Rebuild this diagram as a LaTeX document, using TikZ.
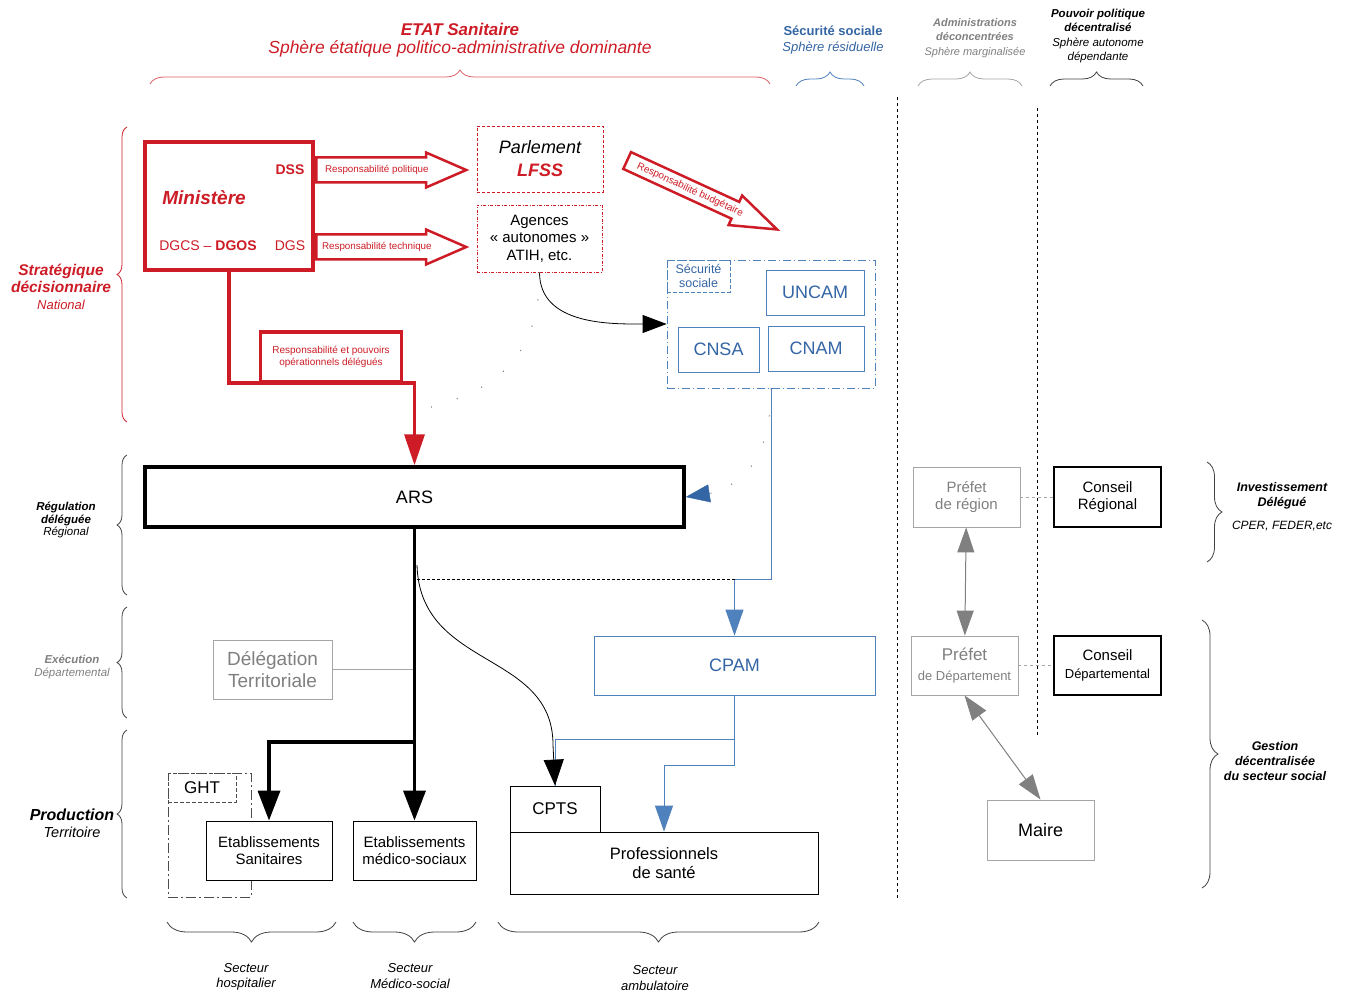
\documentclass[tikz,border=0pt]{standalone}
\usepackage{fontspec}
\setmainfont{Liberation Sans}
\usetikzlibrary{arrows.meta,shapes.arrows,decorations.pathreplacing,positioning}
\definecolor{santered}{RGB}{205,28,38}
\definecolor{secblue}{RGB}{52,101,164}
\definecolor{secline}{RGB}{79,129,189}
\definecolor{textgray}{RGB}{128,128,128}
\definecolor{prefgray}{RGB}{165,165,165}
\newcommand{\fsz}[1]{\fontsize{#1}{\fpeval{round(1.17*#1,2)}}\selectfont}
\tikzset{box/.style={draw, line width=0.8pt, align=center, inner sep=2pt, fill=white}}
\tikzset{bbox/.style={box, draw=secline, text=secblue, font=\fsz{18}}}
\tikzset{gbox/.style={box, draw=prefgray, text=textgray}}
\tikzset{kedge/.style={line width=3.5pt, -{Triangle[length=30pt,width=22pt]}}}
\tikzset{redge/.style={line width=3.5pt, color=santered}}
\tikzset{bedge/.style={line width=0.9pt, color=secline}}
\tikzset{gedge/.style={line width=1pt, color=prefgray}}
\tikzset{sdots/.style={line width=1.2pt, dash pattern=on 1pt off 26pt, color=gray}}
\tikzset{grp/.style={decorate, decoration={brace, amplitude=#1}, line width=0.8pt}}
\tikzset{blockarrow/.style={single arrow, draw=santered, line width=2.5pt, fill=white, text=santered,
    font=\fsz{9.8}, single arrow head extend=5pt, single arrow tip angle=47, inner xsep=2pt,
    inner ysep=6.5pt, text height=7.5pt, text depth=2pt}}

\begin{document}
\begin{tikzpicture}[x=1pt,y=-1pt]
    \useasboundingbox (0,0) rectangle (1346,992);

    % spheres
    \node[font=\fsz{17}\bfseries\itshape, text=santered] (etat) at (460,29) {ETAT Sanitaire};
    \node[font=\fsz{17.5}\itshape, text=santered] (etatsph) at (460,49) {Sphère étatique politico-administrative dominante};
    \node[font=\fsz{13}, text=secblue, align=center] (secu) at (833,40) {\bfseries Sécurité sociale\\\itshape Sphère résiduelle};
    \node[font=\fsz{11}, text=textgray, align=center] (admin) at (975,38)
        {\bfseries\itshape Administrations\\[1.5pt]\bfseries\itshape déconcentrées\\[1.5pt]\itshape Sphère marginalisée};
    \node[font=\fsz{11.5}, align=center] (pouvoir) at (1098,36)
        {\bfseries\itshape Pouvoir politique\\[1pt]\bfseries\itshape décentralisé\\[1pt]\itshape Sphère autonome\\[1pt]\itshape dépendante};

    \draw[grp=14pt, color=santered!70] (150,84) -- (770,84);
    \draw[grp=14pt, color=secline] (796,86) -- (864,86);
    \draw[grp=14pt, color=prefgray] (918,86) -- (1022,86);
    \draw[grp=14pt, color=black!75] (1050,86) -- (1143,86);

    \draw[dash pattern=on 3pt off 3pt, line width=0.8pt] (897,97) -- (897,900);
    \draw[dash pattern=on 3pt off 3pt, line width=0.8pt] (1037,108) -- (1037,737);

    % niveaux
    \node[font=\fsz{15.5}, text=santered, align=center] (strat) at (61,287)
        {\bfseries\itshape Stratégique\\[-1pt]\bfseries\itshape décisionnaire\\[-1pt]\fsz{13}\itshape National};
    \node[font=\fsz{11.5}, align=center] (regul) at (66,520)
        {\bfseries\itshape Régulation\\[-1pt]\bfseries\itshape déléguée\\[-1pt]\itshape Régional};
    \node[font=\fsz{11.5}, text=textgray, align=center] (exec) at (72,667)
        {\bfseries\itshape Exécution\\[-1pt]\itshape Départemental};
    \node[font=\fsz{16}, align=center] (prod) at (72,823)
        {\bfseries\itshape Production\\[-2pt]\fsz{14.5}\itshape Territoire};

    \draw[grp=10pt, color=santered] (127,422) -- (127,127);
    \draw[grp=10pt, color=black!75] (127,595) -- (127,455);
    \draw[grp=10pt, color=black!75] (127,718) -- (127,607);
    \draw[grp=10pt, color=black!75] (127,898) -- (127,730);

    \node[font=\fsz{12.5}\bfseries\itshape, align=center] (invest) at (1282,496) {Investissement\\Délégué};
    \node[font=\fsz{12}\itshape] (cper) at (1282,526) {CPER, FEDER,etc};
    \node[font=\fsz{12.5}\bfseries\itshape, align=center] (gestion) at (1275,761)
        {Gestion\\décentralisée\\du secteur social};
    \draw[grp=15pt, color=black!75] (1207,462) -- (1207,562);
    \draw[grp=16pt, color=black!75] (1202,620) -- (1202,888);

    \node[font=\fsz{13}\itshape, align=center] (sechosp) at (246,977) {Secteur\\hospitalier};
    \node[font=\fsz{13}\itshape, align=center] (secms) at (410,976) {Secteur\\Médico-social};
    \node[font=\fsz{13}\itshape, align=center] (secamb) at (655,978) {Secteur\\ambulatoire};
    \draw[grp=20pt, color=black!75] (336,922) -- (167,922);
    \draw[grp=20pt, color=black!75] (476,922) -- (353,922);
    \draw[grp=20pt, color=black!75] (819,922) -- (498,922);

    % niveau national
    \node[box, draw=santered, line width=3.5pt, minimum width=168pt, minimum height=128pt] (mini) at (229,206) {};
    \node[font=\fsz{19}\bfseries\itshape, text=santered] (minit) at (204,198) {Ministère};
    \node[font=\fsz{14}\bfseries, text=santered] (dss) at (290,170) {DSS};
    \node[font=\fsz{14}, text=santered] (dgcs) at (208,246) {DGCS – \textbf{DGOS}};
    \node[font=\fsz{14}, text=santered] (dgs) at (290,246) {DGS};

    \node[blockarrow, minimum height=150pt, anchor=tail] (rpol) at (315,170) {Responsabilité politique};
    \node[blockarrow, minimum height=150pt, anchor=tail] (rtech) at (315,247) {Responsabilité technique};
    \node[blockarrow, minimum height=165pt, anchor=tail, rotate=-24.7, inner ysep=3pt, text height=8pt, font=\fsz{10},
        single arrow head extend=7pt, single arrow tip angle=39] (rbud) at (626,160) {Responsabilité budgétaire};

    \node[box, draw=santered, dash pattern=on 3pt off 2pt, minimum width=126pt, minimum height=66pt, font=\fsz{18}] (parl) at (540,159)
        {\itshape Parlement\\[2pt]{\color{santered}\bfseries\itshape LFSS}};
    \node[box, draw=santered, dash pattern=on 3pt off 1.5pt on 1pt off 1.5pt, minimum width=125pt, minimum height=67pt, font=\fsz{15}] (agen) at (539.5,238.5)
        {Agences\\« autonomes »\\ATIH, etc.};

    \node[box, draw=secline, fill=none, dash pattern=on 8pt off 3pt on 1pt off 3pt, minimum width=208pt, minimum height=128pt] (secsoc) at (771,324) {};
    \node[box, draw=secline, fill=none, dash pattern=on 4pt off 2pt, minimum width=63pt, minimum height=32pt, anchor=north west,
        text=secblue, font=\fsz{12.5}] (secsoclab) at (secsoc.north west) {Sécurité\\sociale};
    \node[bbox, minimum width=98pt, minimum height=45pt] (uncam) at (815,292.5) {UNCAM};
    \node[bbox, minimum width=81pt, minimum height=45pt] (cnsa) at (718.5,349.5) {CNSA};
    \node[bbox, minimum width=96pt, minimum height=45pt] (cnam) at (816,348.5) {CNAM};

    % niveau regional
    \node[box, line width=3.5pt, minimum width=539pt, minimum height=60pt, font=\fsz{18}] (ars) at (414.5,497) {ARS};

    \coordinate (rcorner) at (414.5,383);
    \draw[redge, -{Triangle[length=31pt,width=20pt]}] (mini.south) |- (rcorner) -- (ars.north);
    \node[box, draw=santered, line width=3.5pt, minimum width=141pt, minimum height=50pt, text=santered, font=\fsz{10}] (rop) at (331,357)
        {Responsabilité et pouvoirs\\opérationnels délégués};

    \draw[line width=0.8pt, -{Triangle[length=24pt,width=18pt]}] (agen.south) to[out=-90, in=180] (secsoc.west);
    \coordinate (dotend) at (420,410);
    \draw[sdots] (agen.south) .. controls (540,370) and (480,395) .. (dotend);
    \draw[sdots] (secsoc.south) .. controls (771,450) and (750,480) .. (715,492);
    \draw[secblue, -{Triangle[length=24pt,width=18pt]}] (712,493) -- (ars.east);

    \node[bbox, minimum width=281pt, minimum height=59pt] (cpam) at (734.5,665.5) {CPAM};
    \coordinate (cpamjoin) at (734.5,579);
    \coordinate (arsdash) at (417,579);
    \draw[bedge, -{Triangle[length=26pt,width=18pt]}] (secsoc.south) |- (cpamjoin) -- (cpam.north);
    \draw[dash pattern=on 3pt off 2pt, line width=0.8pt] (arsdash) -- (cpamjoin);

    % niveau departemental et territoire
    \node[gbox, minimum width=119pt, minimum height=59pt, font=\fsz{19}] (deleg) at (272.5,669.5) {Délégation\\Territoriale};
    \coordinate (arsjoin) at (414.5,742);
    \draw[gedge] (deleg.east) -- (deleg.east -| arsjoin);

    \node[box, fill=none, draw=black!70, dash pattern=on 10pt off 3pt on 2pt off 3pt, minimum width=83pt, minimum height=124pt] (ght) at (209.5,835) {};
    \node[box, fill=none, draw=black!70, dash pattern=on 4pt off 2pt, minimum width=68pt, minimum height=29pt, anchor=north west, font=\fsz{17}] (ghtlab) at (ght.north west) {GHT};
    \node[box, minimum width=126pt, minimum height=59pt, font=\fsz{15}] (etabsan) at (269,850.5) {Etablissements\\Sanitaires};
    \node[box, minimum width=123pt, minimum height=59pt, font=\fsz{15}] (etabms) at (414.5,850.5) {Etablissements\\médico-sociaux};
    \node[box, minimum width=308pt, minimum height=62pt, font=\fsz{16.5}] (ps) at (664,863) {Professionnels\\de santé};
    \node[box, minimum width=90pt, minimum height=46pt, font=\fsz{17}] (cpts) at (555,809) {CPTS};

    \draw[line width=3.5pt] (ars.south) -- (arsjoin);
    \draw[kedge] (arsjoin) -| (etabsan.north);
    \draw[kedge] (arsjoin) -- (etabms.north);

    \coordinate (psbend) at (734.5,765);
    \coordinate (cptsbend) at (734.5,739);
    \draw[bedge, -{Triangle[length=26pt,width=18pt]}] (cpam.south) -- (psbend) -| (ps.north);
    \draw[bedge] (cptsbend) -| (cpts.north);
    \coordinate (arscurve) at (417,565);
    \draw[line width=0.8pt, -{Triangle[length=26pt,width=20pt]}] (arscurve) .. controls (420,670) and (553,650) .. (553,745) -- (cpts.north);

    % administrations et collectivites
    \node[gbox, minimum width=107pt, minimum height=60pt, font=\fsz{15}] (prefreg) at (966.5,497) {Préfet\\de région};
    \node[box, line width=1.2pt, minimum width=107pt, minimum height=60pt, font=\fsz{15}] (consreg) at (1107.5,497) {Conseil\\Régional};
    \node[gbox, minimum width=107pt, minimum height=59pt, font=\fsz{17}] (prefdep) at (964.5,665.5) {Préfet\\\fsz{13}de Département};
    \node[box, line width=1.2pt, minimum width=107pt, minimum height=59pt, font=\fsz{15}] (consdep) at (1107.5,665.5) {Conseil\\\fsz{13}Départemental};
    \node[box, draw=prefgray, line width=1pt, minimum width=107pt, minimum height=60pt, font=\fsz{18}] (maire) at (1040.5,830) {Maire};

    \draw[gedge, dashed] (prefreg) -- (consreg);
    \draw[gedge, dashed] (prefdep) -- (consdep);
    \draw[gedge, color=textgray, {Triangle[length=25pt,width=17pt]}-{Triangle[length=25pt,width=17pt]}] (prefreg) -- (prefdep);
    \draw[gedge, color=textgray, {Triangle[length=25pt,width=17pt]}-{Triangle[length=25pt,width=17pt]}] (prefdep.south) -- (maire.north);
\end{tikzpicture}
\end{document}
